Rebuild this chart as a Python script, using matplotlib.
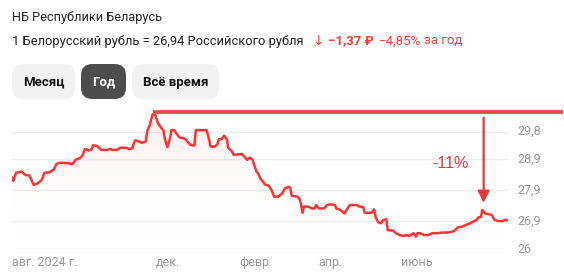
import matplotlib.pyplot as plt
import matplotlib.dates as mdates
from matplotlib.patches import FancyBboxPatch
import numpy as np
import pandas as pd

# Курс белорусского рубля к российскому, за год (дни от начала периода)
start_date = "2024-08-17"
days = [0, 1, 3, 7, 10, 13, 16, 19, 22, 24, 28, 31, 33, 36, 41, 45, 47, 50, 52, 54,
        57, 59, 60, 63, 66, 70, 73, 74, 78, 80, 84, 87, 89, 91, 94, 96, 99, 100, 102, 104,
        106, 108, 111, 112, 113, 115, 117, 118, 120, 122, 124, 127, 129, 132, 135, 136, 144, 145, 147, 150,
        152, 153, 155, 157, 159, 160, 163, 164, 168, 170, 173, 174, 176, 178, 179, 181, 182, 184, 186, 187,
        190, 192, 194, 197, 200, 202, 205, 206, 207, 211, 213, 214, 215, 216, 219, 222, 224, 225, 227, 231,
        233, 236, 239, 240, 243, 246, 248, 250, 255, 257, 260, 261, 266, 268, 269, 271, 273, 275, 277, 278,
        282, 284, 287, 290, 292, 294, 297, 299, 300, 302, 305, 308, 311, 315, 318, 322, 326, 328, 330, 333,
        336, 338, 341, 344, 345, 347, 348, 350, 352, 355, 357, 360, 363, 365, 367]
rates = [28.31, 28.21, 28.47, 28.51, 28.40, 28.38, 28.08, 28.13, 28.24, 28.47, 28.49, 28.58, 28.76, 28.80, 28.78, 28.76, 28.89, 28.94, 29.02, 29.24,
         29.19, 29.23, 29.36, 29.34, 29.21, 29.21, 29.24, 29.21, 29.21, 29.28, 29.28, 29.24, 29.26, 29.52, 29.48, 29.44, 29.48, 29.80, 30.02, 30.36,
         30.34, 30.07, 29.89, 29.85, 29.59, 29.30, 29.59, 29.85, 29.85, 29.72, 29.61, 29.59, 29.53, 29.37, 29.35, 29.85, 29.85, 29.69, 29.32, 29.32,
         29.39, 29.55, 29.56, 29.67, 29.55, 29.28, 29.15, 29.05, 29.07, 29.08, 28.94, 28.89, 28.96, 28.89, 28.75, 28.51, 28.46, 28.27, 28.18, 28.10,
         28.05, 27.92, 27.70, 27.70, 27.81, 27.97, 28.02, 27.97, 27.73, 27.70, 27.62, 27.43, 27.18, 27.38, 27.38, 27.32, 27.32, 27.43, 27.32, 27.32,
         27.43, 27.45, 27.43, 27.32, 27.27, 27.16, 27.30, 27.43, 27.43, 27.38, 27.36, 27.18, 27.18, 27.29, 27.05, 26.87, 26.84, 26.95, 26.97, 26.62,
         26.60, 26.52, 26.46, 26.43, 26.46, 26.43, 26.52, 26.41, 26.52, 26.52, 26.46, 26.46, 26.52, 26.52, 26.54, 26.54, 26.57, 26.62, 26.71, 26.73,
         26.79, 26.82, 26.89, 26.95, 27.03, 27.05, 27.27, 27.16, 27.14, 27.11, 26.95, 26.91, 26.91, 26.95, 26.94]

grid_values = [26, 26.9, 27.9, 28.9, 29.8]
grid_labels = ["26", "26,9", "27,9", "28,9", "29,8"]
month_ticks = ["2024-12-01", "2025-02-01", "2025-04-01", "2025-06-01"]
month_labels = ["дек.", "февр.", "апр.", "июнь"]
first_label = "авг. 2024 г."
change_text = "-11%"
top_level = 30.45
arrow_day, arrow_top, arrow_tip = 349, 30.25, 27.50

RED = "#ff3333"
DARK_RED = "#e53935"
GREY = "#999999"
TEXT = "#222222"
FONT = ["Roboto", "DejaVu Sans"]

dates = pd.to_datetime(start_date) + pd.to_timedelta(days, unit="D")

fig = plt.figure(figsize=(5.64, 2.80), dpi=100)
fig.patch.set_facecolor("white")

W, H = 564, 280
ax = fig.add_axes([12 / W, (H - 249.3) / H, 496 / W, 144.3 / H])
x0, x1 = dates[0], dates[-1]
ax.set_xlim(x0, x1)
ax.set_ylim(26, 30.66)
ax.axis("off")

for g in grid_values:
    ax.axhline(g, color="#ececec", lw=1, zorder=0)

# pink gradient fill under the line
xn = mdates.date2num(dates)
grad = np.linspace(0, 1, 256).reshape(-1, 1)
img = ax.imshow(grad, aspect="auto", cmap=plt.matplotlib.colors.LinearSegmentedColormap.from_list(
    "f", [(1, 1, 1, 0), (1, 0.2, 0.2, 0.09)]), origin="lower",
    extent=[xn[0], xn[-1], 26, max(rates)], zorder=1)
poly = ax.fill_between(dates, rates, 26, color="none")
clip = poly.get_paths()[0]
img.set_clip_path(clip, transform=ax.transData)

ax.plot(dates, rates, color=RED, lw=1.8, zorder=3, solid_joinstyle="round")

# horizontal top line starting at the peak, running past the axes
peak_i = int(np.argmax(rates))
span = mdates.date2num(x1) - mdates.date2num(x0)
line_end = mdates.num2date(mdates.date2num(x0) + span * 1.11)
ax.plot([dates[peak_i], line_end], [top_level, top_level], color="#e8453c", lw=2.6,
        clip_on=False, solid_capstyle="butt", zorder=4)

# arrow with change label
ad = pd.to_datetime(start_date) + pd.Timedelta(days=arrow_day)
ax.annotate("", xy=(ad, arrow_tip), xytext=(ad, arrow_top),
            arrowprops=dict(arrowstyle="-|>,head_width=0.35,head_length=0.7",
                            color=DARK_RED, lw=1.6, shrinkA=0, shrinkB=0), zorder=5)
ax.text(ad - pd.Timedelta(days=11), 28.78, change_text, color=DARK_RED, fontsize=11.5,
        ha="right", va="center", family=["Liberation Sans", "DejaVu Sans"])

# axis labels
for g, lab in zip(grid_values, grid_labels):
    ax.text(1.02, g, lab, transform=ax.get_yaxis_transform(), color=GREY,
            fontsize=9, ha="left", va="center", family=FONT)
ax.text(x0, 25.58, first_label, color=GREY, fontsize=9, ha="left", va="center", family=FONT)
for d, lab in zip(month_ticks, month_labels):
    ax.text(pd.to_datetime(d), 25.58, lab, color=GREY, fontsize=9, ha="left",
            va="center", family=FONT)

# header
fig.text(12 / W, 1 - 18 / H, "НБ Республики Беларусь", fontsize=9.2, color=TEXT,
         va="center", family=FONT)
fig.text(12 / W, 1 - 41 / H, "1 Белорусский рубль = 26,94 Российского рубля", fontsize=9.25,
         color=TEXT, va="center", family=FONT)
fig.text(312 / W, 1 - 41 / H, "↓", fontsize=10, color="#ff3b30", va="center",
         family=["DejaVu Sans"])
fig.text(328 / W, 1 - 41 / H, "−1,37 ₽", fontsize=9.5, color="#ff3b30", va="center",
         family=FONT, fontweight="bold")
fig.text(379 / W, 1 - 41 / H, "−4,85%", fontsize=9.5, color="#ff3b30", va="center", family=FONT)
fig.text(424 / W, 1 - 41 / H, "за год", fontsize=9.5, color="#ff3b30", va="center", family=FONT)

buttons = [("Месяц", 12, 75, False), ("Год", 81, 126, True), ("Всё время", 132, 219, False)]
for label, bx0, bx1, active in buttons:
    box = FancyBboxPatch((bx0 / W, 1 - 99 / H), (bx1 - bx0) / W, 35 / H,
                         boxstyle="round,pad=0,rounding_size=0.02",
                         transform=fig.transFigure, facecolor="#4d4d4d" if active else "#f2f2f2",
                         edgecolor="none", mutation_aspect=W / H)
    fig.add_artist(box)
    fig.text((bx0 + bx1) / 2 / W, 1 - 82 / H, label, fontsize=9.5, fontweight="bold",
             color="white" if active else "#111111", ha="center", va="center", family=FONT)

fig.savefig("out.png", dpi=100)
